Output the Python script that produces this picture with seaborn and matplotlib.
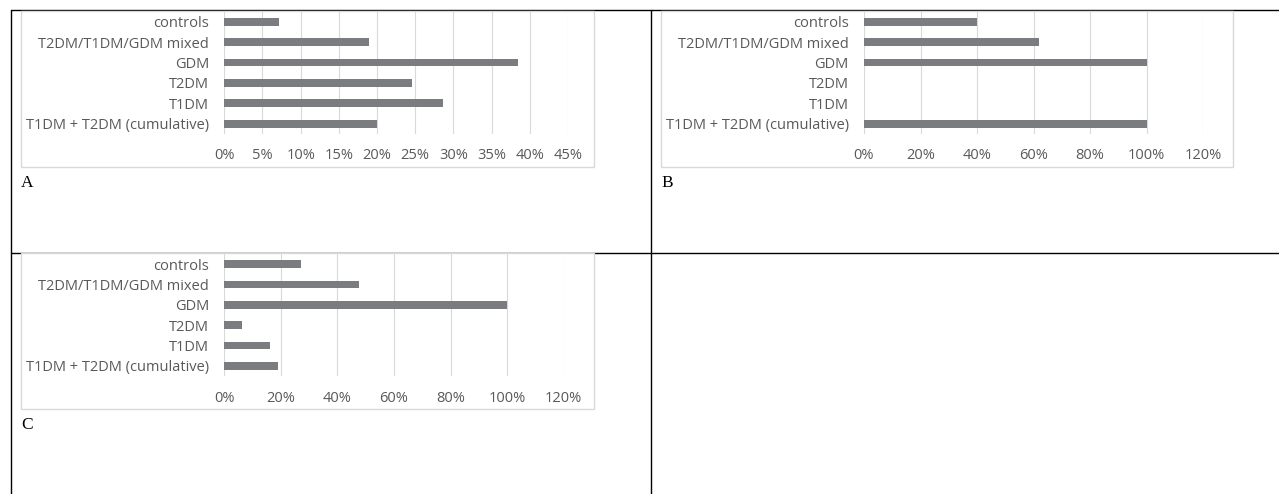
import numpy as np
import pandas as pd
import matplotlib
matplotlib.use("Agg")
import matplotlib.pyplot as plt
from matplotlib.patches import Rectangle
from matplotlib.lines import Line2D
from matplotlib.ticker import PercentFormatter
import seaborn as sns

# --- data -------------------------------------------------------------
categories = [
    "controls",
    "T2DM/T1DM/GDM mixed",
    "GDM",
    "T2DM",
    "T1DM",
    "T1DM + T2DM (cumulative)",
]
values_a = [7.2, 19.0, 38.4, 24.6, 28.6, 20.0]
values_b = [40.0, 62.0, 100.0, 0.0, 0.0, 100.0]
values_c = [27.2, 47.6, 100.0, 6.4, 16.3, 19.0]
panel_labels = ["A", "B", "C"]
ticks_a = [0, 5, 10, 15, 20, 25, 30, 35, 40, 45]
ticks_bc = [0, 20, 40, 60, 80, 100, 120]

# --- styling ----------------------------------------------------------
sns.set_theme(style="white")
plt.rcParams["font.family"] = ["Open Sans", "DejaVu Sans"]

W, H = 1279, 494
BAR = "#7b7c80"
GRID = "#d9d9d9"
TEXT = "#595959"
FS = 10.5

fig = plt.figure(figsize=(W / 100, H / 100), dpi=100)
fig.patch.set_facecolor("white")


def fx(px):
    return px / W


def fy(py):
    return 1 - py / H


def hline(y, x0, x1):
    fig.add_artist(Line2D([fx(x0), fx(x1)], [fy(y), fy(y)], color="black",
                          lw=1.0, transform=fig.transFigure, zorder=0))


def vline(x, y0, y1):
    fig.add_artist(Line2D([fx(x), fx(x)], [fy(y0), fy(y1)], color="black",
                          lw=1.0, transform=fig.transFigure, zorder=0))


# table grid around the panels
hline(10, 11, W)
hline(253, 11, W)
vline(11, 10, H)
vline(651, 10, H)


def panel(values, ticks, frame, plot, label, label_pos):
    fl, ft, fr, fb = frame
    fig.add_artist(Rectangle((fx(fl), fy(fb)), fx(fr) - fx(fl), fy(ft) - fy(fb),
                             transform=fig.transFigure, facecolor="white",
                             edgecolor=GRID, lw=1.0, zorder=1))
    pl, pt, pr, pb = plot
    ax = fig.add_axes([fx(pl), fy(pb), fx(pr) - fx(pl), fy(pt) - fy(pb)])
    ax.set_zorder(2)
    ax.patch.set_alpha(0)
    df = pd.DataFrame({"group": categories, "share": values})
    sns.barplot(data=df, x="share", y="group", orient="h", color=BAR,
                saturation=1, width=0.38, linewidth=0, ax=ax)
    ax.set_xlim(0, ticks[-1])
    ax.set_ylim(len(categories) - 0.5, -0.5)
    ax.set_xticks(ticks)
    ax.xaxis.set_major_formatter(PercentFormatter(xmax=100, decimals=0))
    ax.grid(axis="x", color=GRID, lw=0.8)
    ax.grid(axis="y", visible=False)
    ax.set_axisbelow(True)
    for s in ax.spines.values():
        s.set_visible(False)
    ax.set_xlabel("")
    ax.set_ylabel("")
    ax.tick_params(axis="x", length=0, pad=10.5, labelsize=FS, labelcolor=TEXT)
    ax.tick_params(axis="y", length=0, pad=11, labelsize=FS, labelcolor=TEXT)
    fig.text(fx(label_pos[0]), fy(label_pos[1]), label, family="Liberation Serif",
             fontsize=12.5, color="black", ha="left", va="baseline")
    return ax


panel(values_a, ticks_a, (21, 11, 594, 166.7), (224.3, 11.5, 568, 133.9),
      panel_labels[0], (21, 186.5))
panel(values_b, ticks_bc, (660.7, 11, 1232.7, 166.7), (864, 11.5, 1203, 133.9),
      panel_labels[1], (661, 186.5))
panel(values_c, ticks_bc, (21, 253.3, 594, 409.3), (224.3, 253.8, 563.7, 376.2),
      panel_labels[2], (21, 428.5))

fig.savefig("out.png", dpi=100, facecolor="white")
